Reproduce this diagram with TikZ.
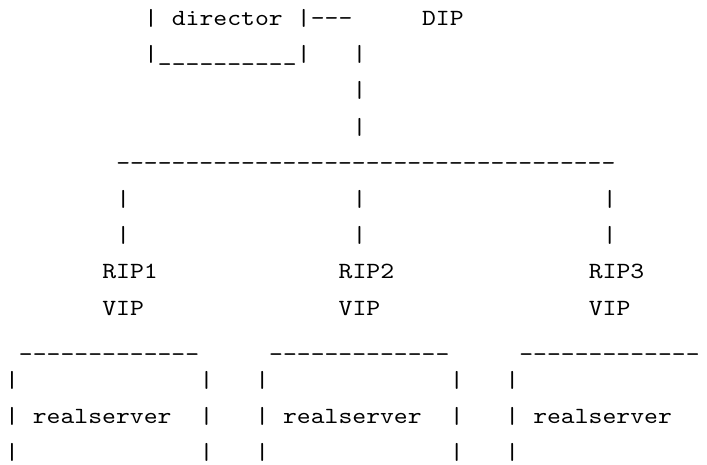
\documentclass[tikz,border=0pt]{standalone}
\usepackage{fontspec}
\newfontfamily\asciifont[Ligatures=TeXOff,FakeStretch=1.14]{lmmono10-regular.otf}
\ExplSyntaxOn
\NewDocumentCommand\repchar{mm}{\prg_replicate:nn{#1}{#2}}
\ExplSyntaxOff
% character grid: column pitch and line pitch of the ASCII sketch
\newcommand\colx[1]{5.05+13.9*(#1)}
\newcommand\rowy[1]{25.5+36.2*((#1)-1)}
\newcommand\cell[4]{\node[ascii] (#1) at ({\colx{#2}},{\rowy{#3}}) {#4};}
\tikzset{
  ascii/.style={inner sep=0pt, outer sep=0pt, anchor=base west, text=black,
    font=\asciifont\fontsize{23.17bp}{27bp}\selectfont}
}
\begin{document}
\begin{tikzpicture}[x=1bp,y=-1bp]
\path[fill=white] (0,0) rectangle (707,465);
\useasboundingbox (0,0) rectangle (707,465);

% director box and its link to the DIP side
\cell{dl}{10}{1}{|}
\cell{director}{12}{1}{director}
\cell{dr}{21}{1}{|---}
\cell{dip}{30}{1}{DIP}
\cell{dbl}{10}{2}{|}
\cell{dbase}{11}{2}{\repchar{10}{\_}}
\cell{dbr}{21}{2}{|}
\cell{up2}{25}{2}{|}
\cell{up3}{25}{3}{|}
\cell{up4}{25}{4}{|}

% shared segment
\cell{bus}{8}{5}{\repchar{36}{-}}
\cell{dropa6}{8}{6}{|}
\cell{dropb6}{25}{6}{|}
\cell{dropc6}{43}{6}{|}
\cell{dropa7}{8}{7}{|}
\cell{dropb7}{25}{7}{|}
\cell{dropc7}{43}{7}{|}

% real server addresses
\cell{rip1}{7}{8}{RIP1}
\cell{rip2}{24}{8}{RIP2}
\cell{rip3}{42}{8}{RIP3}
\cell{vip1}{7}{9}{VIP}
\cell{vip2}{24}{9}{VIP}
\cell{vip3}{42}{9}{VIP}

% real server boxes
\cell{topa}{1}{10}{\repchar{13}{\_}}
\cell{topb}{19}{10}{\repchar{13}{\_}}
\cell{topc}{37}{10}{\repchar{13}{\_}}
\foreach \r in {11,12,13}{
  \cell{la\r}{0}{\r}{|}
  \cell{ra\r}{14}{\r}{|}
  \cell{lb\r}{18}{\r}{|}
  \cell{rb\r}{32}{\r}{|}
  \cell{lc\r}{36}{\r}{|}
}
\cell{rs1}{2}{12}{realserver}
\cell{rs2}{20}{12}{realserver}
\cell{rs3}{38}{12}{realserver}
\end{tikzpicture}
\end{document}
